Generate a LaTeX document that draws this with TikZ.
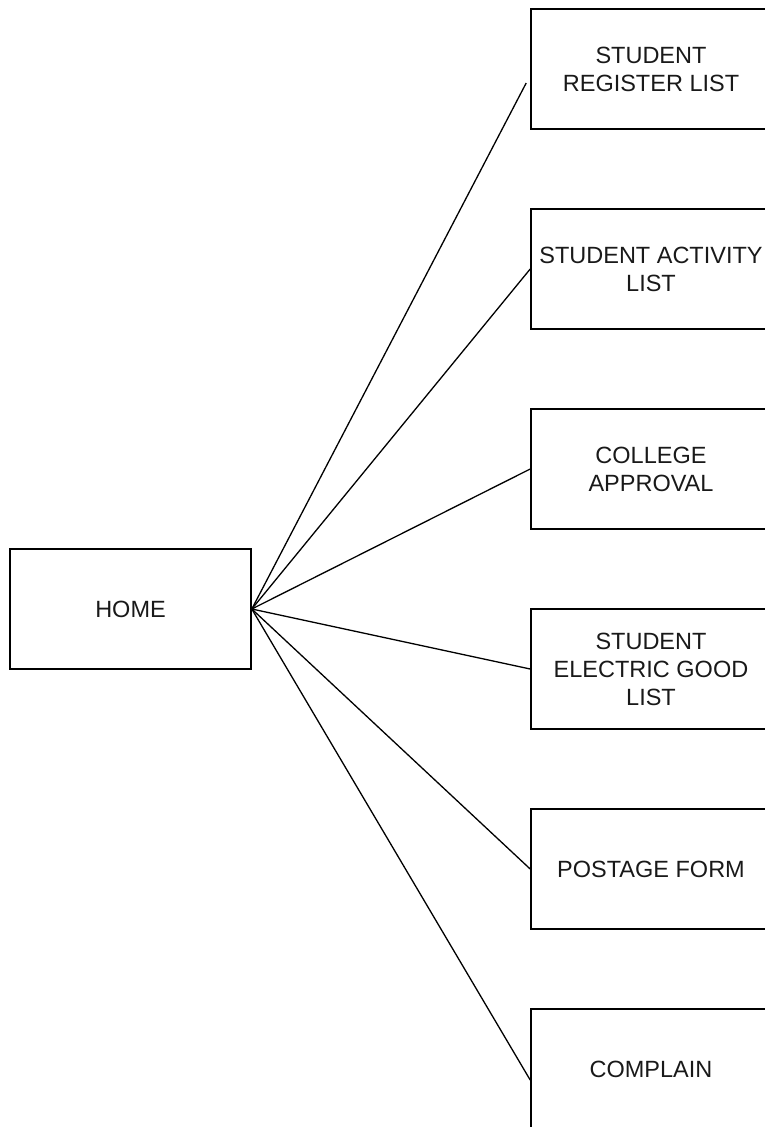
\documentclass[tikz,border=0pt]{standalone}
\usepackage{fontspec}
\setmainfont{Liberation Sans}
\begin{document}
\begin{tikzpicture}[x=1pt,y=-1pt,
  box/.style={draw=black,line width=1.6pt,minimum width=240pt,minimum height=120pt,
    inner sep=0pt,align=center,font=\fontsize{23.5}{28}\selectfont,text=black!90},
  link/.style={draw=black,line width=1.3pt}]
\useasboundingbox (0,0) rectangle (764,1127);
\node[box,minimum width=241pt] (home) at (130.5,609) {HOME};
\node[box] (b1) at (651,69) {STUDENT\\REGISTER LIST};
\node[box] (b2) at (651,269) {STUDENT ACTIVITY\\LIST};
\node[box] (b3) at (651,469) {COLLEGE\\APPROVAL};
\node[box] (b4) at (651,669) {STUDENT\\ELECTRIC GOOD\\LIST};
\node[box] (b5) at (651,869) {POSTAGE FORM};
\node[box] (b6) at (651,1069) {COMPLAIN};
\coordinate (e1) at ([xshift=-4pt,yshift=-14pt]b1.west);
\coordinate (e6) at ([yshift=-11pt]b6.west);
\draw[link] (home.east) -- (e1);
\draw[link] (home.east) -- (b2.west);
\draw[link] (home.east) -- (b3.west);
\draw[link] (home.east) -- (b4.west);
\draw[link] (home.east) -- (b5.west);
\draw[link] (home.east) -- (e6);
\end{tikzpicture}
\end{document}
